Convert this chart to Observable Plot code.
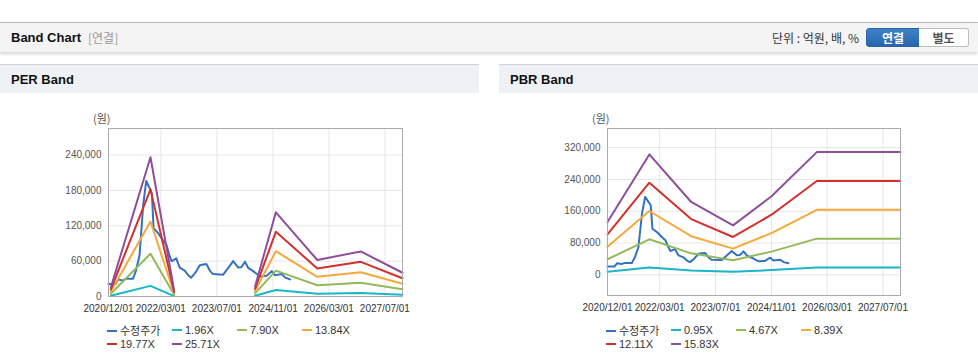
<!DOCTYPE html>
<html><head><meta charset="utf-8">
<script src="https://cdn.jsdelivr.net/npm/d3@7"></script>
<script src="https://cdn.jsdelivr.net/npm/@observablehq/plot@0.6"></script>
<style>
body{margin:0;width:978px;height:364px;position:relative;background:#fff;font-family:"Liberation Sans",Arial,"Noto Sans CJK KR",sans-serif;overflow:hidden;color:#333}
.abs{position:absolute}
#topbar{left:0;top:22px;width:978px;height:29px;background:#f4f4f4;border-top:1px solid #b8b8b8;box-shadow:0 2px 3px rgba(0,0,0,0.16)}
.ttl{font-weight:bold;font-size:13px;color:#111;line-height:16px}
.ph{top:64px;width:479px;height:28px;background:#eef2f7;border-top:1px solid #cfd3d8}
.btn{top:28px;height:17px;line-height:17px;font-size:12px;font-weight:bold;text-align:center;font-family:"Noto Sans CJK KR",sans-serif}
.leg{font-size:11px;line-height:13px;color:#333;white-space:nowrap}
.sw{display:inline-block;width:10px;height:2px;vertical-align:middle;margin-right:3px;position:relative;top:-1px}
.unit{font-size:11px;color:#555;font-family:"Noto Sans CJK KR",sans-serif}
</style>
</head><body>
<div id="topbar" class="abs"></div>
<div class="abs ttl" style="left:11px;top:30px">Band Chart</div>
<div class="abs" style="left:88px;top:30px;font-size:12px;line-height:16px;color:#999;font-family:'Noto Sans CJK KR',sans-serif">[연결]</div>
<div class="abs" style="right:119px;top:30px;font-size:12px;line-height:16px;color:#333;font-family:'Noto Sans CJK KR',sans-serif">단위 : 억원, 배, %</div>
<div class="abs btn" style="left:866px;width:52px;background:linear-gradient(#3e82ca,#2966ab);color:#fff;border:1px solid #2a62a2;border-radius:3px 0 0 3px">연결</div>
<div class="abs btn" style="left:919px;width:49px;background:#fff;color:#555;border:1px solid #bdbdbd;border-left:none;border-radius:0 3px 3px 0">별도</div>

<div class="abs ph" style="left:0"></div>
<div class="abs ph" style="left:499px"></div>
<div class="abs ttl" style="left:11px;top:72px">PER Band</div>
<div class="abs ttl" style="left:510px;top:72px">PBR Band</div>
<div class="abs unit" style="left:93px;top:110px">(원)</div>
<div class="abs unit" style="left:592px;top:110px">(원)</div>
<div id="per" class="abs" style="left:0;top:100px"></div>
<div id="pbr" class="abs" style="left:499px;top:100px"></div>
<div id="perLeg"></div>
<div id="pbrLeg"></div>
<script>
// ---- data ----
const tickDates = ["2020-12-01","2022-03-01","2023-07-01","2024-11-01","2026-03-01","2027-07-01"];
const xDomain = ["2020-12-01","2027-12-01"];

const priceDates = ["2020-12-01","2021-02-01","2021-02-22","2021-04-01","2021-05-01","2021-07-01","2021-07-28","2021-08-28","2021-09-28","2021-10-25","2021-11-25","2021-12-13","2021-12-28","2022-02-07","2022-03-20","2022-04-20","2022-05-15","2022-06-03","2022-06-15","2022-07-12","2022-08-12","2022-09-25","2022-10-25","2022-11-20","2022-12-25","2023-02-03","2023-04-01","2023-05-01","2023-05-28","2023-08-25","2023-10-10","2023-11-20","2024-01-03","2024-02-01","2024-03-01","2024-04-01","2024-05-12","2024-07-10","2024-09-05","2024-10-20","2024-11-18","2025-01-15","2025-02-15","2025-03-28"];
const priceValues = [21000,21000,29000,27000,30000,30000,44000,70000,154000,196000,183000,175000,116000,107000,95000,87000,70000,60000,61000,65000,49000,44000,36000,32000,40000,53000,55000,44000,38000,37000,49000,60000,49000,50000,59000,48000,43000,34000,35000,43000,36000,38000,32000,29000];

const perDates = ["2020-12-21","2021-12-01","2022-06-25","2023-09-01","2024-05-28","2024-11-25","2025-11-20","2026-12-03","2027-12-01"];
const per196  = [1170, 18010, 760, null, 1300, 10890, 4720, 5830, 3070];
const per790  = [4700, 72600, 3070, null, 5220, 43880, 19020, 23500, 12380];
const per1384 = [8230, 127190, 5380, null, 9150, 76870, 33330, 41170, 21690];
const per1977 = [11760, 181690, 7690, null, 13070, 109800, 47610, 58820, 30980];
const per2571 = [15300, 236300, 10000, null, 17000, 142800, 61900, 76500, 40300];
const perNames = ["수정주가","1.96X","7.90X","13.84X","19.77X","25.71X"];
const perTicks = [0, 60000, 120000, 180000, 240000];

const pbrDates = ["2020-12-01","2021-12-01","2022-12-01","2023-12-01","2024-11-01","2025-12-01","2027-12-01"];
const pbr095  = [7960, 18170, 10990, 7470, 11860, 18520, 18520];
const pbr467  = [39150, 89330, 54050, 36700, 58300, 91040, 91040];
const pbr839  = [70330, 160480, 97100, 65930, 104730, 163560, 163560];
const pbr1211 = [101520, 231640, 140150, 95160, 151170, 236080, 236080];
const pbr1583 = [132700, 302800, 183200, 124400, 197600, 308600, 308600];
const pbrNames = ["수정주가","0.95X","4.67X","8.39X","12.11X","15.83X"];
const pbrTicks = [0, 80000, 160000, 240000, 320000];

const colors = ["#3371c2","#19b5c8","#92ba5b","#f4a93b","#d3302c","#8e4e9b"];

// ---- build ----
function rowsFor(names, dates, bands) {
  const rows = priceDates.map((d, i) => ({date: new Date(d), value: priceValues[i], s: names[0]}));
  bands.forEach((vals, k) => dates.forEach((d, i) => rows.push({date: new Date(d), value: vals[i], s: names[k + 1]})));
  return rows;
}
function chart(rows, names, yDomain, yTicks, mr, mb) {
  const ticks = tickDates.map(d => new Date(d));
  return Plot.plot({
    width: 479, height: 220,
    marginLeft: 108, marginRight: mr, marginTop: 28, marginBottom: mb,
    style: {fontFamily: '"Liberation Sans", Arial, sans-serif', fontSize: "10px", background: "transparent", overflow: "visible"},
    x: {type: "utc", domain: xDomain.map(d => new Date(d))},
    y: {domain: yDomain},
    color: {domain: names, range: colors},
    marks: [
      Plot.gridX(ticks, {stroke: "#e6e6e6", strokeOpacity: 1}),
      Plot.gridY(yTicks, {stroke: "#e6e6e6", strokeOpacity: 1}),
      Plot.axisX(ticks, {tickSize: 0, tickPadding: 8, tickFormat: d3.utcFormat("%Y/%m/%d"), fill: "#333", label: null}),
      Plot.axisY(yTicks, {tickSize: 0, tickPadding: 7, tickFormat: d3.format(","), fill: "#555", label: null}),
      Plot.line(rows, {x: "date", y: "value", z: "s", stroke: "s", strokeWidth: 2}),
      Plot.frame({stroke: "#ababab"})
    ]
  });
}
function legend(id, names, left) {
  const el = document.getElementById(id);
  names.forEach((n, i) => {
    const row = Math.floor(i / 4), col = i % 4;
    const d = document.createElement("div");
    d.className = "abs leg";
    d.style.left = (left + col * 65) + "px";
    d.style.top = (324 + row * 13.5) + "px";
    d.innerHTML = `<span class="sw" style="background:${colors[i]}"></span>${n}`;
    if (i === 0) d.style.fontFamily = '"Noto Sans CJK KR", sans-serif';
    el.appendChild(d);
  });
}
document.getElementById("per").appendChild(
  chart(rowsFor(perNames, perDates, [per196, per790, per1384, per1977, per2571]), perNames, [0, 285000], perTicks, 77, 24));
document.getElementById("pbr").appendChild(
  chart(rowsFor(pbrNames, pbrDates, [pbr095, pbr467, pbr839, pbr1211, pbr1583]), pbrNames, [-52000, 368000], pbrTicks, 78, 25));
legend("perLeg", perNames, 107);
legend("pbrLeg", pbrNames, 606);
</script>
</body></html>
